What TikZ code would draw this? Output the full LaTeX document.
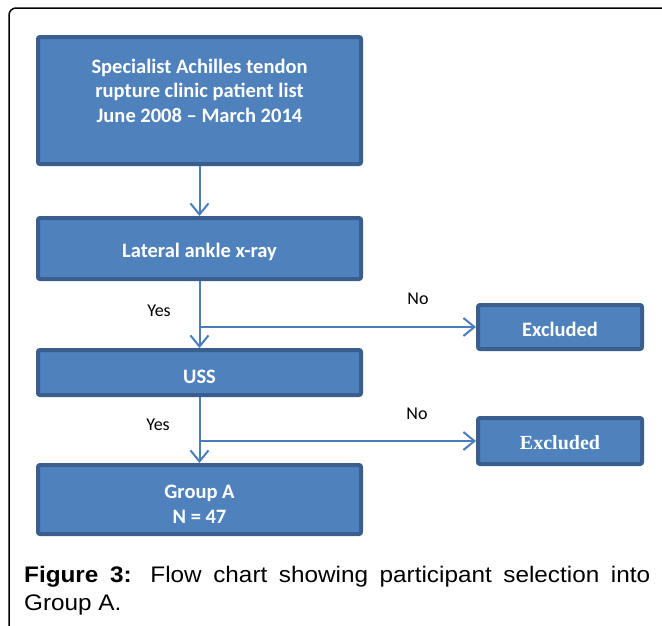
\documentclass[tikz,border=0pt]{standalone}
\usepackage{fontspec}
\setmainfont{Liberation Sans}
\newfontfamily\calibri{Carlito}
\newfontfamily\timesf{Liberation Serif}
\newfontfamily\capfont[FakeStretch=1.08]{Liberation Sans}
\usetikzlibrary{arrows.meta}
\definecolor{boxfill}{HTML}{4F81BD}
\definecolor{boxline}{HTML}{3A5F8E}
\definecolor{connc}{HTML}{4A7EBB}
\begin{document}
\begin{tikzpicture}[x=1pt,y=-1pt,
  flowbox/.style={draw=boxline, fill=boxfill, line width=4pt, rounded corners=2pt,
    inner sep=0pt, minimum width=323pt},
  exbox/.style={flowbox, minimum width=164pt},
  boxtext/.style={text=white, font=\calibri\bfseries\fontsize{20.5}{24.5}\selectfont,
    align=center, inner sep=0pt},
  sertext/.style={boxtext, font=\timesf\bfseries\fontsize{20}{22}\selectfont},
  conn/.style={draw=connc, line width=2pt, -{Straight Barb[length=11pt,width=18pt,line width=2pt]}},
  lab/.style={font=\calibri\fontsize{18}{20}\selectfont, inner sep=0pt},
  frame/.style={line width=1.5pt, rounded corners=7pt}]
\useasboundingbox (0,0) rectangle (662,625);
\clip (0,0) rectangle (662,625);
\draw[frame] (9,640) -- (9,8) -- (690,8);

\node[flowbox, minimum height=127pt] (b1) at (199.5,100.5) {};
\node[flowbox, minimum height=61pt] (b2) at (199.5,248.5) {};
\node[flowbox, minimum height=45pt] (b3) at (199.5,372.5) {};
\node[flowbox, minimum height=69pt] (b4) at (199.5,499.5) {};
\node[exbox, minimum height=44pt] (e1) at (560,327) {};
\node[exbox, minimum height=46pt] (e2) at (560,441) {};

\node[boxtext, anchor=north] (t1) at (199.5,58.5)
  {Specialist Achilles tendon\\rupture clinic patient list\\June 2008 – March 2014};
\node[boxtext, yshift=-3.5pt] (t2) at (b2) {Lateral ankle x-ray};
\node[boxtext, yshift=-4pt] (t3) at (b3) {USS};
\node[boxtext, yshift=-5pt] (t4) at (b4) {Group A\\N = 47};
\node[boxtext, yshift=-2.5pt] (t5) at (e1) {Excluded};
\node[sertext, yshift=-1.5pt] (t6) at (e2) {Excluded};

\draw[conn] (b1.south) -- (b2.north);
\draw[conn] (b2.south) -- (b3.north);
\draw[conn] (b2.south |- e1.west) -- (e1.west);
\draw[conn] (b3.south) -- (b4.north);
\draw[conn] (b3.south |- e2.west) -- (e2.west);

\node[lab] (y1) at (159,310.5) {Yes};
\node[lab] (n1) at (418,299) {No};
\node[lab] (y2) at (158,424.5) {Yes};
\node[lab] (n2) at (417,414) {No};

\node[anchor=north west, inner sep=0pt, text width=626pt, align=justify,
  font=\capfont\fontsize{22.5}{28}\selectfont] (cap) at (24,566)
  {\textbf{Figure 3:} Flow chart showing participant selection into\linebreak Group A.};
\end{tikzpicture}
\end{document}
